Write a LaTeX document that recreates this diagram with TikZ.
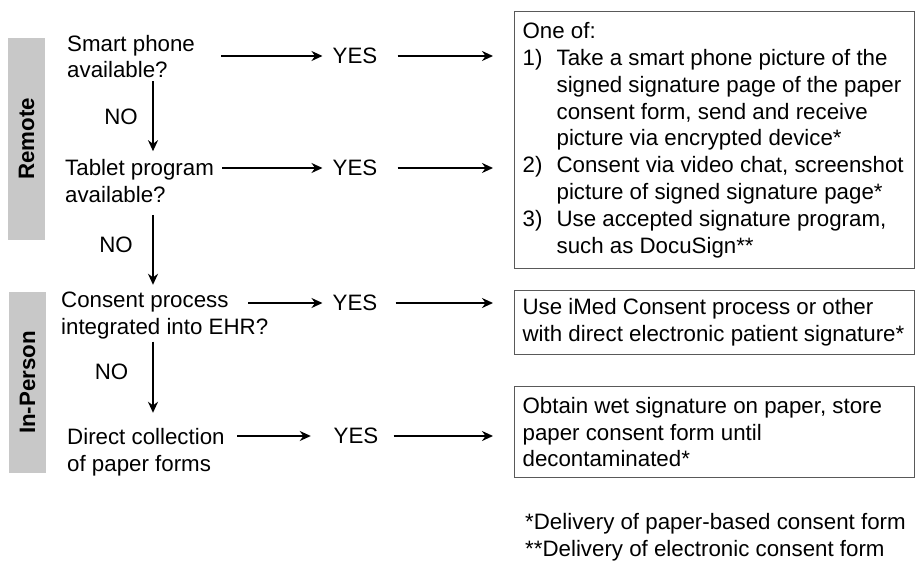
\documentclass[tikz,border=0pt]{standalone}
\usepackage{fontspec}
\setmainfont{Liberation Sans}
\usetikzlibrary{arrows.meta,calc,positioning}
\definecolor{bandgray}{RGB}{200,200,200}
\definecolor{framegray}{RGB}{89,89,89}
\newcommand{\flowfont}{\fontsize{22.3}{26.8}\selectfont}
\newcommand{\numlabel}[1]{\makebox[34pt][l]{#1}}
\newcommand{\numindent}{\hspace*{34pt}}
\tikzset{
>=Stealth,
question/.style={align=flush left,anchor=west,inner sep=0pt},
answer/.style={inner xsep=10pt,inner ysep=2pt},
outcome/.style={draw=framegray,line width=1.2pt,anchor=north west,text width=384pt,inner xsep=8pt,align=flush left},
band/.style={fill=bandgray,rotate=90,font=\flowfont\bfseries,minimum width=#1,minimum height=37pt},
flow/.style={-{Stealth[length=11pt,width=10pt]},line width=2.4pt}}

\begin{document}
\begin{tikzpicture}[x=1pt,y=-1pt,font=\flowfont]
\useasboundingbox (0,0) rectangle (915,561);

% side bands
\node[band=202pt] (remote) at (26.5,139) {Remote};
\node[band=181pt] (inperson) at (27.5,382.5) {In-Person};

% questions
\node[question] (q1) at (67,56.5) {Smart phone\\available?};
\node[question] (q2) at (65,181) {Tablet program\\available?};
\node[question] (q3) at (61,315.5) {Consent process\\integrated into EHR?};
\node[question] (q4) at (67,452.5) {Direct collection\\of paper forms};

\node (n1) at (121,117) {NO};
\node (n2) at (116,245) {NO};
\node (n3) at (111.5,372) {NO};

\node[answer] (y1) at (355,56) {YES};
\node[answer] (y2) at (355,168) {YES};
\node[answer] (y3) at (355,303) {YES};
\node[answer] (y4) at (356,436) {YES};

% outcomes
\node[outcome,minimum height=257pt] (b1) at (514,11) {One of:\\
\numlabel{1)}Take a smart phone picture of the\\
\numindent signed signature page of the paper\\
\numindent consent form, send and receive\\
\numindent picture via encrypted device*\\
\numlabel{2)}Consent via video chat, screenshot\\
\numindent picture of signed signature page*\\
\numlabel{3)}Use accepted signature program,\\
\numindent such as DocuSign**};
\node[outcome,minimum height=64pt] (b2) at (514,290) {Use iMed Consent process or other\\with direct electronic patient signature*};
\node[outcome,minimum height=91pt] (b3) at (514,386) {Obtain wet signature on paper, store\\paper consent form until\\decontaminated*};

\node[question] (note) at (525,537) {*Delivery of paper-based consent form\\**Delivery of electronic consent form};

% NO arrows
\coordinate (col) at (153,0);
\draw[flow,shorten <=3pt,shorten >=8pt] (col |- q1.south) -- (col |- q2.north);
\draw[flow,shorten <=12pt,shorten >=7pt] (col |- q2.south) -- (col |- q3.north);
\draw[flow,shorten <=2.5pt,shorten >=15.7pt] (col |- q3.south) -- (col |- q4.north);

% YES arrows
\coordinate (s1) at (221,56);
\coordinate (s2) at (222,168);
\coordinate (s3) at (248,303);
\coordinate (s4) at (237,436);
\draw[flow] (s1) -- (y1);
\draw[flow] (s2) -- (y2);
\draw[flow] (s3) -- (y3);
\draw[flow,shorten >=12.7pt] (s4) -- (y4);

\draw[flow,shorten <=10pt,shorten >=21pt] (y1) -- (y1 -| b1.west);
\draw[flow,shorten <=10pt,shorten >=21pt] (y2) -- (y2 -| b1.west);
\draw[flow,shorten <=8pt,shorten >=21pt] (y3) -- (y3 -| b2.west);
\draw[flow,shorten <=5pt,shorten >=21pt] (y4) -- (y4 -| b3.west);

\end{tikzpicture}
\end{document}
